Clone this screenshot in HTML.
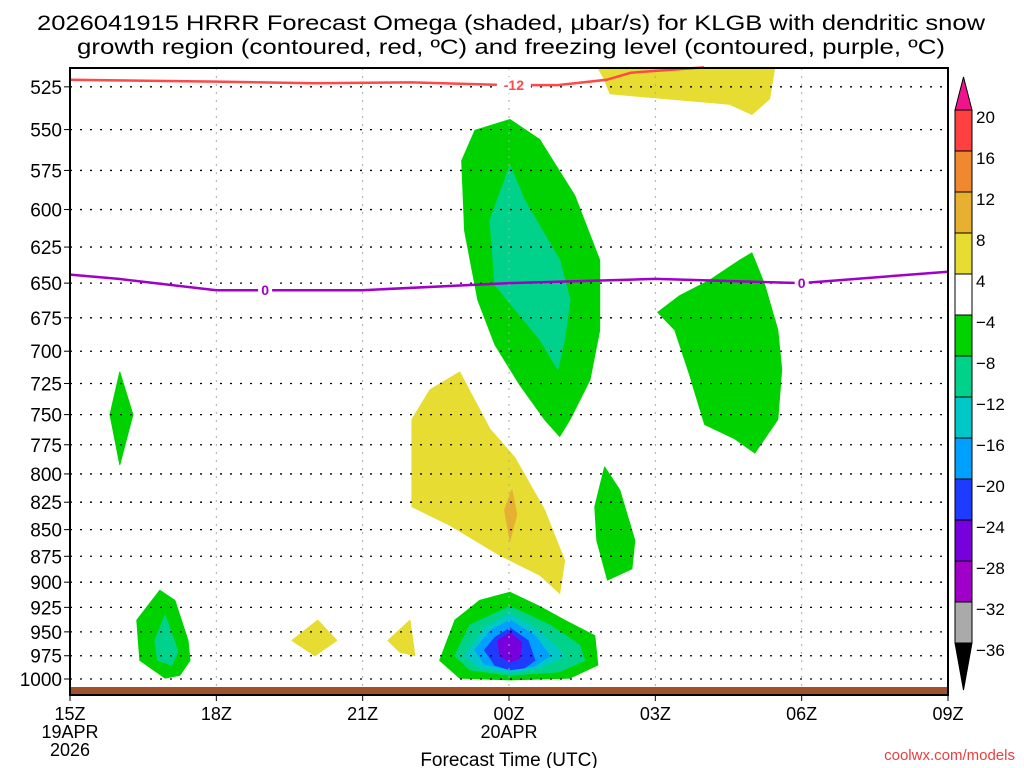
<!DOCTYPE html>
<html><head><meta charset="utf-8"><style>
html,body{margin:0;padding:0;background:#fff;}
svg{display:block;font-family:"Liberation Sans","DejaVu Sans",sans-serif;}
</style></head><body>
<svg id="chart" width="1024" height="768" viewBox="0 0 1024 768">
<g id="title">
<text x="511" y="30" text-anchor="middle" font-size="21" textLength="948" lengthAdjust="spacingAndGlyphs" fill="#000">2026041915 HRRR Forecast Omega (shaded, μbar/s) for KLGB with dendritic snow</text>
<text x="511" y="54" text-anchor="middle" font-size="21" textLength="868" lengthAdjust="spacingAndGlyphs" fill="#000">growth region (contoured, red, ºC) and freezing level (contoured, purple, ºC)</text>
</g>
<g id="shading"></g>
<g id="grid"></g>
<rect x="70" y="687" width="878" height="7" fill="#a0522d"/>
<g id="contours"></g>
<rect x="70" y="68" width="878" height="627" fill="none" stroke="#000" stroke-width="2"/>
<g id="yaxis"></g>
<g id="xaxis"></g>
<text x="509" y="766" text-anchor="middle" font-size="19" fill="#000">Forecast Time (UTC)</text>
<text x="1015" y="760" text-anchor="end" font-size="15" fill="#e8403f">coolwx.com/models</text>
<g id="colorbar"></g>
</svg>
<script>
const pressureTicks=[525,550,575,600,625,650,675,700,725,750,775,800,825,850,875,900,925,950,975,1000];
const hourTicks=[0,3,6,9,12,15,18];
const hourLabels=["15Z","18Z","21Z","00Z","03Z","06Z","09Z"];
const dateLabels={0:["19APR","2026"],9:["20APR"]};
const cbLevels=[20,16,12,8,4,-4,-8,-12,-16,-20,-24,-28,-32,-36];
const cbColors=["#ff4040","#f08830","#e8b030","#e6dc32","#ffffff","#00d200","#00d28c","#00c8c8","#00a0ff","#1e3cff","#7800dc","#a000c8","#aaaaaa"];
const regionYellowTop=[[10.82,514],[14.45,514],[14.34,532],[13.98,541],[13.52,535],[11.07,529],[10.96,521]];
const regionGreenUpper=[[8.03,569],[8.3,550.5],[9.02,544],[9.63,556],[10.35,591],[10.86,634],[10.86,684],[10.66,722],[10.25,754],[10.04,768],[9.73,754],[9.22,726],[8.71,695],[8.36,662],[8.09,614]];
const regionTealUpper=[[8.61,607],[9.02,572],[9.32,594],[10.04,634],[10.25,662],[10.14,691],[10,714],[9.63,691],[9.22,673],[8.71,651]];
const regionGreenRight=[[12.05,671],[12.5,659],[13.11,648],[13.73,634],[13.98,629],[14.24,651],[14.51,684],[14.59,714],[14.51,754],[14.04,782],[13.63,770],[13.01,758],[12.7,718],[12.4,684]];
const regionGreenLeft=[[1.02,716],[1.29,750],[1.02,792],[0.82,750]];
const regionYellowMid=[[7.01,754],[7.38,730],[7.99,716],[8.61,762],[9.12,786],[9.73,832],[10.14,879],[10.04,911],[9.63,893],[8.81,874],[7.79,846],[7.01,829]];
const regionOrangeMid=[[8.91,832],[9.06,814],[9.16,836],[9.02,860]];
const regionGreenMid=[[10.76,829],[10.96,794],[11.27,814],[11.58,860],[11.52,887],[11.02,898],[10.8,860]];
const regionGreenLow=[[1.37,938],[1.84,908],[2.15,918],[2.42,959],[2.46,980],[2.25,996],[1.95,999],[1.43,980]];
const regionTealLow=[[1.74,959],[1.95,933],[2.21,970],[2.09,985],[1.8,980]];
const regionYellowA=[[4.55,959],[5.08,938],[5.47,959],[5.02,975]];
const regionYellowB=[[6.52,959],[6.97,938],[7.07,975],[6.76,971]];
const coreGreen=[[7.58,980],[7.89,938],[8.4,918],[9.02,910],[9.63,924],[10.14,938],[10.76,954],[10.82,985],[10.25,999],[9.02,1001],[7.99,999]];
const coreSea=[[7.89,975],[8.2,943],[9.02,924],[9.84,943],[10.45,964],[10.55,980],[10.04,992],[9.02,996],[8.2,990]];
const coreCyan=[[8.09,975],[8.5,946],[9.02,932],[9.63,949],[10.14,975],[9.63,988],[9.02,993],[8.4,988]];
const coreAzure=[[8.3,969],[8.61,949],[9.02,938],[9.53,954],[9.84,975],[9.53,986],[9.02,990],[8.5,984]];
const coreBlue=[[8.5,969],[8.71,956],[9.02,946],[9.39,959],[9.53,980],[9.32,988],[9.02,990],[8.71,985]];
const coreViolet=[[8.77,959],[9.02,951],[9.26,961],[9.22,978],[9.02,982],[8.81,975]];
const regions=[["#e6dc32",regionYellowTop],["#00d200",regionGreenUpper],["#00d28c",regionTealUpper],["#00d200",regionGreenRight],["#00d200",regionGreenLeft],["#e6dc32",regionYellowMid],["#e8b030",regionOrangeMid],["#00d200",regionGreenMid],["#00d200",regionGreenLow],["#00d28c",regionTealLow],["#e6dc32",regionYellowA],["#e6dc32",regionYellowB],["#00d200",coreGreen],["#00d28c",coreSea],["#00c8c8",coreCyan],["#00a0ff",coreAzure],["#1e3cff",coreBlue],["#7800dc",coreViolet]];
const dgzHours=[0,3,5,7,9,10,11,11.5,13];
const dgzPres=[521,522,523,522.5,524,524,521,517,514];
const frzHours=[0,1,3,6,9,12,15,18];
const frzPres=[644,647,655,655,650,647,650,642];

const NS="http://www.w3.org/2000/svg";
const X0=70,X1=948,XH=(X1-X0)/18;
const Y1000=679,K=919;
const xs=h=>X0+h*XH;
const ys=p=>Y1000-K*Math.log(1000/p);
function mk(tag,attrs,parent){const e=document.createElementNS(NS,tag);for(const k in attrs)e.setAttribute(k,attrs[k]);parent.appendChild(e);return e;}

const gS=document.getElementById('shading');
regions.forEach((r,i)=>{
  const el=mk('polygon',{points:r[1].map(d=>xs(d[0]).toFixed(1)+','+ys(d[1]).toFixed(1)).join(' '),fill:r[0],'stroke':r[0],'stroke-width':1,'stroke-linejoin':'round'},gS);
  
  
});
const gG=document.getElementById('grid');
pressureTicks.forEach(p=>{
  const el=mk('line',{x1:X0,x2:X1,y1:ys(p),y2:ys(p),stroke:'#000','stroke-width':1.3,'stroke-dasharray':'2 8'},gG);
  
  
});
hourTicks.forEach(h=>{
  const el=mk('line',{x1:xs(h),x2:xs(h),y1:68,y2:695,stroke:'#aaa','stroke-width':1,'stroke-dasharray':'2 6'},gG);
  
  
});
const gC=document.getElementById('contours');
function line(hs,ps,color,name){
  const el=mk('polyline',{points:hs.map((h,i)=>xs(h).toFixed(1)+','+ys(ps[i]).toFixed(1)).join(' '),fill:'none',stroke:color,'stroke-width':2.5},gC);
  
  
}
line(dgzHours,dgzPres,'#ff4848','dgz-contour-line');
line(frzHours,frzPres,'#a000c8','freezing-level-line');
function clabel(h,p,t,color,name){
  mk('rect',{x:xs(h)-(t.length*5+2),y:ys(p)-8,width:t.length*10+4,height:16,fill:'#fff'},gC);
  const el=mk('text',{x:xs(h),y:ys(p)+5,'text-anchor':'middle','font-size':14,'font-weight':'bold',fill:color},gC);
  el.textContent=t;
  
  
}
clabel(9.1,524,'-12','#ff4848','dgz-contour-label');
clabel(4.0,655,'0','#a000c8','freezing-label-1');
clabel(15.0,650,'0','#a000c8','freezing-label-2');

const gY=document.getElementById('yaxis');
pressureTicks.forEach(p=>{
  mk('line',{x1:64,x2:70,y1:ys(p),y2:ys(p),stroke:'#000'},gY);
  const el=mk('text',{x:62,y:ys(p)+7,'text-anchor':'end','font-size':19,fill:'#000'},gY);
  el.textContent=p;
  
  
});
const gX=document.getElementById('xaxis');
hourTicks.forEach((h,i)=>{
  mk('line',{x1:xs(h),x2:xs(h),y1:695,y2:701,stroke:'#000'},gX);
  const el=mk('text',{x:xs(h),y:720,'text-anchor':'middle','font-size':18,fill:'#000'},gX);
  el.textContent=hourLabels[i];
  
  
  (dateLabels[h]||[]).forEach((t,j)=>{
    const d=mk('text',{x:xs(h),y:738+j*18,'text-anchor':'middle','font-size':18,fill:'#000'},gX);
    d.textContent=t;
    
    
  });
});
const gB=document.getElementById('colorbar');
const CBX=955,CBW=17,CBT=110,CBH=(643-110)/cbColors.length;
mk('polygon',{points:`${CBX},${CBT} ${CBX+CBW},${CBT} ${CBX+CBW/2},77`,fill:'#f0148c',stroke:'#000'},gB);
mk('polygon',{points:`${CBX},643 ${CBX+CBW},643 ${CBX+CBW/2},690`,fill:'#000',stroke:'#000'},gB);
cbColors.forEach((c,i)=>{
  const el=mk('rect',{x:CBX,y:CBT+i*CBH,width:CBW,height:CBH,fill:c,stroke:'#000','stroke-width':1},gB);
  
  
});
cbLevels.forEach((v,i)=>{
  const el=mk('text',{x:976,y:CBT+i*CBH+13,'font-size':17,fill:'#000'},gB);
  el.textContent=v<0?'−'+(-v):String(v);
  
  
});
</script>
</body></html>
